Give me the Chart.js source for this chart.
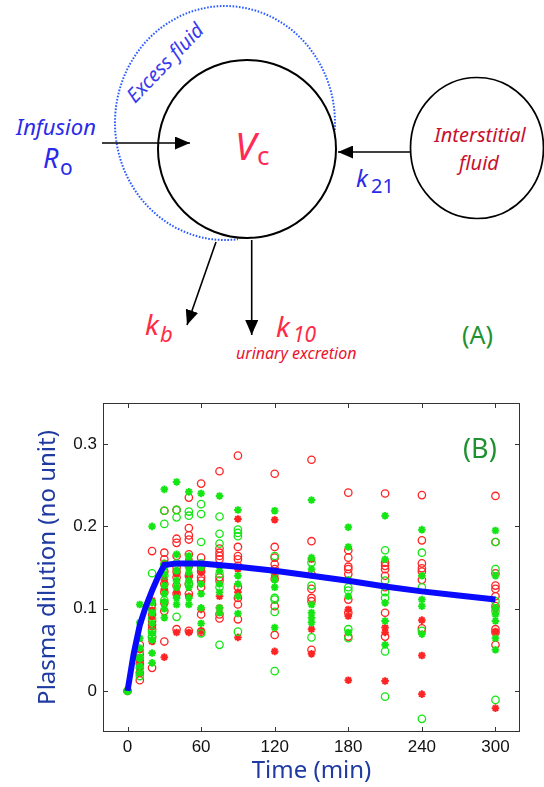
<!DOCTYPE html>
<html>
<head>
<meta charset="utf-8">
<script src="https://cdn.jsdelivr.net/npm/chart.js@4.4.1/dist/chart.umd.min.js"></script>
<style>
  html, body { margin: 0; padding: 0; background: #fff; }
  #page { position: relative; width: 544px; height: 787px; overflow: hidden; }
  #diagram { position: absolute; left: 0; top: 0; }
  #diagram text { font-family: "Noto Sans", "Open Sans", sans-serif; }
  #plot { position: absolute; left: 0; top: 380px; width: 544px; height: 407px; }
</style>
</head>
<body>
<div id="page">
  <svg id="diagram" width="544" height="380" viewBox="0 0 544 380">
    <defs>
      <marker id="head" viewBox="0 0 10 10" refX="10" refY="5" markerWidth="15" markerHeight="13"
              markerUnits="userSpaceOnUse" orient="auto" preserveAspectRatio="none">
        <path d="M0,0 L10,5 L0,10 z" fill="#000"/>
      </marker>
    </defs>

    <!-- excess fluid (dotted) -->
    <path d="M334.8,130 A110,117 0 1 0 238,239.2" fill="none" stroke="#2a5cff" stroke-width="2"
          stroke-dasharray="1.6 1.6"/>
    <!-- central compartment -->
    <circle cx="247" cy="149" r="89" fill="none" stroke="#000" stroke-width="2"/>
    <!-- interstitial compartment -->
    <ellipse cx="477" cy="148" rx="66.5" ry="70.5" fill="none" stroke="#000" stroke-width="1.7"/>

    <!-- arrows -->
    <line x1="102" y1="143" x2="190" y2="143" stroke="#000" stroke-width="1.6" marker-end="url(#head)"/>
    <line x1="411" y1="152" x2="338" y2="152" stroke="#000" stroke-width="1.6" marker-end="url(#head)"/>
    <line x1="216" y1="242" x2="187" y2="325" stroke="#000" stroke-width="1.6" marker-end="url(#head)"/>
    <line x1="251.7" y1="240" x2="251.7" y2="335" stroke="#000" stroke-width="1.6" marker-end="url(#head)"/>

    <!-- labels -->
    <text x="135" y="104" transform="rotate(-46 135 104)" font-size="20" font-style="italic" fill="#3a3aee">Excess fluid</text>
    <text x="16" y="135" font-size="22" font-style="italic" fill="#2a2ae8">Infusion</text>
    <text x="43" y="168" font-size="27" font-style="italic" fill="#2a2ae8">R</text>
    <text x="60" y="175" font-size="21" fill="#2a2ae8">o</text>
    <text x="235" y="160" font-size="38" font-style="italic" fill="#ff2a55">V</text>
    <text x="257" y="165" font-size="26" fill="#ff2a55">c</text>
    <text x="356" y="187" font-size="24" font-style="italic" fill="#2a2ae8">k</text>
    <text x="371" y="193" font-size="20" fill="#2a2ae8">21</text>
    <text x="480" y="142" font-size="20" font-style="italic" fill="#c8102e" text-anchor="middle">Interstitial</text>
    <text x="479" y="170" font-size="20" font-style="italic" fill="#c8102e" text-anchor="middle">fluid</text>
    <text x="145" y="335" font-size="28" font-style="italic" fill="#ff2a45">k</text>
    <text x="160" y="342" font-size="22" font-style="italic" fill="#ff2a45">b</text>
    <text x="276" y="337" font-size="28" font-style="italic" fill="#ff2a45">k</text>
    <text x="293" y="342" font-size="21" font-style="italic" fill="#ff2a45">10</text>
    <text x="236" y="359" font-size="16" font-style="italic" fill="#e8142e">urinary excretion</text>
    <text x="462" y="344" font-size="25" fill="#1f9130">(A)</text>
  </svg>
  <div id="plot"><canvas id="chart"></canvas></div>
</div>

<script>
// sampling times (min)
const times = [0, 10, 20, 30, 40, 50, 60, 75, 90, 120, 150, 180, 210, 240, 300];

// observed plasma dilution, one list per sampling time
const redCircles = [
  [0],
  [0.056, 0.045, 0.038, 0.033, 0.022, 0.013],
  [0.17, 0.105, 0.093, 0.085, 0.08, 0.075, 0.065, 0.028],
  [0.219, 0.168, 0.16, 0.145, 0.13, 0.12, 0.107, 0.097, 0.06],
  [0.22, 0.185, 0.18, 0.164, 0.15, 0.145, 0.138, 0.128, 0.118, 0.075],
  [0.235, 0.198, 0.189, 0.184, 0.166, 0.152, 0.14, 0.13, 0.118, 0.073],
  [0.252, 0.162, 0.15, 0.145, 0.138, 0.134, 0.126, 0.093, 0.072],
  [0.267, 0.173, 0.168, 0.164, 0.16, 0.138, 0.134, 0.093, 0.088],
  [0.286, 0.175, 0.164, 0.16, 0.152, 0.126, 0.113, 0.105, 0.087],
  [0.264, 0.175, 0.162, 0.154, 0.148, 0.136, 0.103, 0.068],
  [0.281, 0.182, 0.142, 0.124, 0.113, 0.109, 0.05],
  [0.241, 0.171, 0.162, 0.151, 0.148, 0.142, 0.111, 0.095, 0.066],
  [0.24, 0.156, 0.152, 0.148, 0.14, 0.126, 0.095, 0.066],
  [0.238, 0.183, 0.155, 0.149, 0.145, 0.135, 0.076],
  [0.237, 0.181, 0.143, 0.128, 0.124, 0.115, 0.103, 0.075, 0.071, 0.056]
];
const redStars = [
  [0],
  [0.05, 0.036, 0.027],
  [0.11, 0.098, 0.09, 0.078, 0.06],
  [0.155, 0.135, 0.124, 0.041],
  [0.142, 0.12, 0.071],
  [0.16, 0.138, 0.115, 0.071],
  [0.145, 0.099, 0.073],
  [0.152, 0.115, 0.101],
  [0.209, 0.148, 0.12, 0.065],
  [0.208, 0.14, 0.048],
  [0.16, 0.075, 0.045],
  [0.099, 0.091, 0.013],
  [0.077, 0.071, 0.012],
  [0.086, 0.043, -0.004],
  [0.1, 0.072, -0.021]
];
const greenCircles = [
  [0],
  [0.048, 0.04, 0.028, 0.018],
  [0.143, 0.1, 0.088, 0.072, 0.066],
  [0.219, 0.203, 0.154, 0.14, 0.11],
  [0.22, 0.211, 0.155, 0.09],
  [0.218, 0.213, 0.155, 0.13],
  [0.227, 0.215, 0.181, 0.155, 0.07],
  [0.212, 0.191, 0.179, 0.142, 0.126, 0.056],
  [0.196, 0.192, 0.188, 0.072],
  [0.164, 0.144, 0.113, 0.111, 0.096, 0.024],
  [0.156, 0.128, 0.065],
  [0.126, 0.122, 0.075, 0.064],
  [0.171, 0.134, 0.12, 0.113, 0.048, -0.007],
  [0.168, 0.126, 0.073, -0.034],
  [0.181, 0.148, 0.109, 0.097, -0.011]
];
const greenStars = [
  [0],
  [0.105, 0.083, 0.064, 0.052, 0.04, 0.03, 0.022],
  [0.2, 0.108, 0.095, 0.082, 0.07, 0.062, 0.046, 0.034],
  [0.245, 0.15, 0.142, 0.128, 0.118, 0.108, 0.1, 0.089],
  [0.254, 0.166, 0.146, 0.134, 0.126, 0.113, 0.105],
  [0.242, 0.164, 0.158, 0.15, 0.144, 0.134, 0.126, 0.113, 0.105],
  [0.24, 0.15, 0.13, 0.118, 0.101, 0.082],
  [0.237, 0.146, 0.13, 0.12, 0.101, 0.095],
  [0.22, 0.14, 0.13, 0.115, 0.094],
  [0.219, 0.135, 0.126, 0.077],
  [0.232, 0.162, 0.148, 0.105, 0.095, 0.089, 0.083],
  [0.199, 0.175, 0.135, 0.115, 0.071],
  [0.213, 0.16, 0.107, 0.085, 0.056],
  [0.196, 0.14, 0.111, 0.103, 0.069],
  [0.195, 0.14, 0.101, 0.093, 0.085, 0.064, 0.05]
];

// fitted model curve
const modelTimes  = [0, 5, 10, 15, 20, 25, 30, 40, 50, 60, 90, 120, 150, 180, 210, 240, 270, 300];
const modelValues = [0, 0.045, 0.08, 0.103, 0.122, 0.139, 0.153, 0.155, 0.155, 0.155, 0.151, 0.146, 0.14, 0.134, 0.127, 0.121, 0.116, 0.111];

const xTickValues = [0, 60, 120, 180, 240, 300];
const yTickValues = [0, 0.1, 0.2, 0.3];

function toPoints(groups) {
  const pts = [];
  groups.forEach((vals, i) => vals.forEach(v => pts.push({ x: times[i], y: v })));
  return pts;
}

const RED = '#ff2424';
const GREEN = '#14e614';

// matlab-like box with inward ticks + panel letter
const boxPlugin = {
  id: 'boxPlugin',
  afterDraw(chart) {
    const { ctx, chartArea: a, scales } = chart;
    const len = 5;
    ctx.save();
    ctx.strokeStyle = '#333';
    ctx.lineWidth = 1;
    ctx.strokeRect(a.left + 0.5, a.top + 0.5, a.right - a.left - 1, a.bottom - a.top - 1);
    ctx.beginPath();
    xTickValues.forEach(v => {
      const px = Math.round(scales.x.getPixelForValue(v)) + 0.5;
      ctx.moveTo(px, a.bottom); ctx.lineTo(px, a.bottom - len);
      ctx.moveTo(px, a.top); ctx.lineTo(px, a.top + len);
    });
    yTickValues.forEach(v => {
      const py = Math.round(scales.y.getPixelForValue(v)) + 0.5;
      ctx.moveTo(a.left, py); ctx.lineTo(a.left + len, py);
      ctx.moveTo(a.right, py); ctx.lineTo(a.right - len, py);
    });
    ctx.stroke();
    ctx.fillStyle = '#1f9130';
    ctx.font = '27px "Noto Sans", sans-serif';
    ctx.textBaseline = 'alphabetic';
    ctx.fillText('(B)', a.right - 57, a.top + 55);
    ctx.restore();
  }
};

new Chart(document.getElementById('chart'), {
  type: 'scatter',
  data: {
    datasets: [
      {
        label: 'model',
        data: modelTimes.map((t, i) => ({ x: t, y: modelValues[i] })),
        showLine: true,
        borderColor: '#0a0aff',
        borderWidth: 6,
        pointRadius: 0,
        tension: 0
      },
      {
        label: 'green *',
        data: toPoints(greenStars),
        pointStyle: 'star',
        pointRadius: 3.8,
        borderColor: GREEN,
        borderWidth: 2
      },
      {
        label: 'green o',
        data: toPoints(greenCircles),
        pointStyle: 'circle',
        pointRadius: 3.7,
        borderColor: GREEN,
        backgroundColor: 'rgba(0,0,0,0)',
        borderWidth: 1.3
      },
      {
        label: 'red *',
        data: toPoints(redStars),
        pointStyle: 'star',
        pointRadius: 3.8,
        borderColor: RED,
        borderWidth: 2
      },
      {
        label: 'red o',
        data: toPoints(redCircles),
        pointStyle: 'circle',
        pointRadius: 3.7,
        borderColor: RED,
        backgroundColor: 'rgba(0,0,0,0)',
        borderWidth: 1.3
      }
    ]
  },
  options: {
    responsive: true,
    maintainAspectRatio: false,
    animation: false,
    layout: { padding: { top: 23, right: 24, left: 0, bottom: 0 } },
    plugins: { legend: { display: false }, tooltip: { enabled: false } },
    scales: {
      x: {
        type: 'linear',
        min: -20,
        max: 320,
        afterBuildTicks: s => { s.ticks = xTickValues.map(v => ({ value: v })); },
        afterFit: s => { s.height = 55; },
        grid: { display: false, drawTicks: false },
        border: { display: false },
        ticks: {
          font: { family: 'Liberation Sans', size: 17 },
          color: '#111',
          padding: 5,
          maxRotation: 0,
          callback: v => String(v)
        },
        title: {
          display: true,
          text: 'Time (min)',
          color: '#1f3aa0',
          font: { family: 'Noto Sans', size: 24, lineHeight: 1.2 },
          padding: { top: 0, bottom: 1 }
        }
      },
      y: {
        min: -0.05,
        max: 0.35,
        afterBuildTicks: s => { s.ticks = yTickValues.map(v => ({ value: v })); },
        afterFit: s => { s.width = 103; },
        grid: { display: false, drawTicks: false },
        border: { display: false },
        ticks: {
          font: { family: 'Liberation Sans', size: 17 },
          color: '#111',
          padding: 6,
          callback: v => String(v)
        },
        title: {
          display: true,
          text: 'Plasma dilution (no unit)',
          color: '#1f3aa0',
          font: { family: 'Noto Sans', size: 24, lineHeight: 1.2 },
          padding: { top: 34, bottom: 0 }
        }
      }
    }
  },
  plugins: [boxPlugin]
});
</script>
</body>
</html>
